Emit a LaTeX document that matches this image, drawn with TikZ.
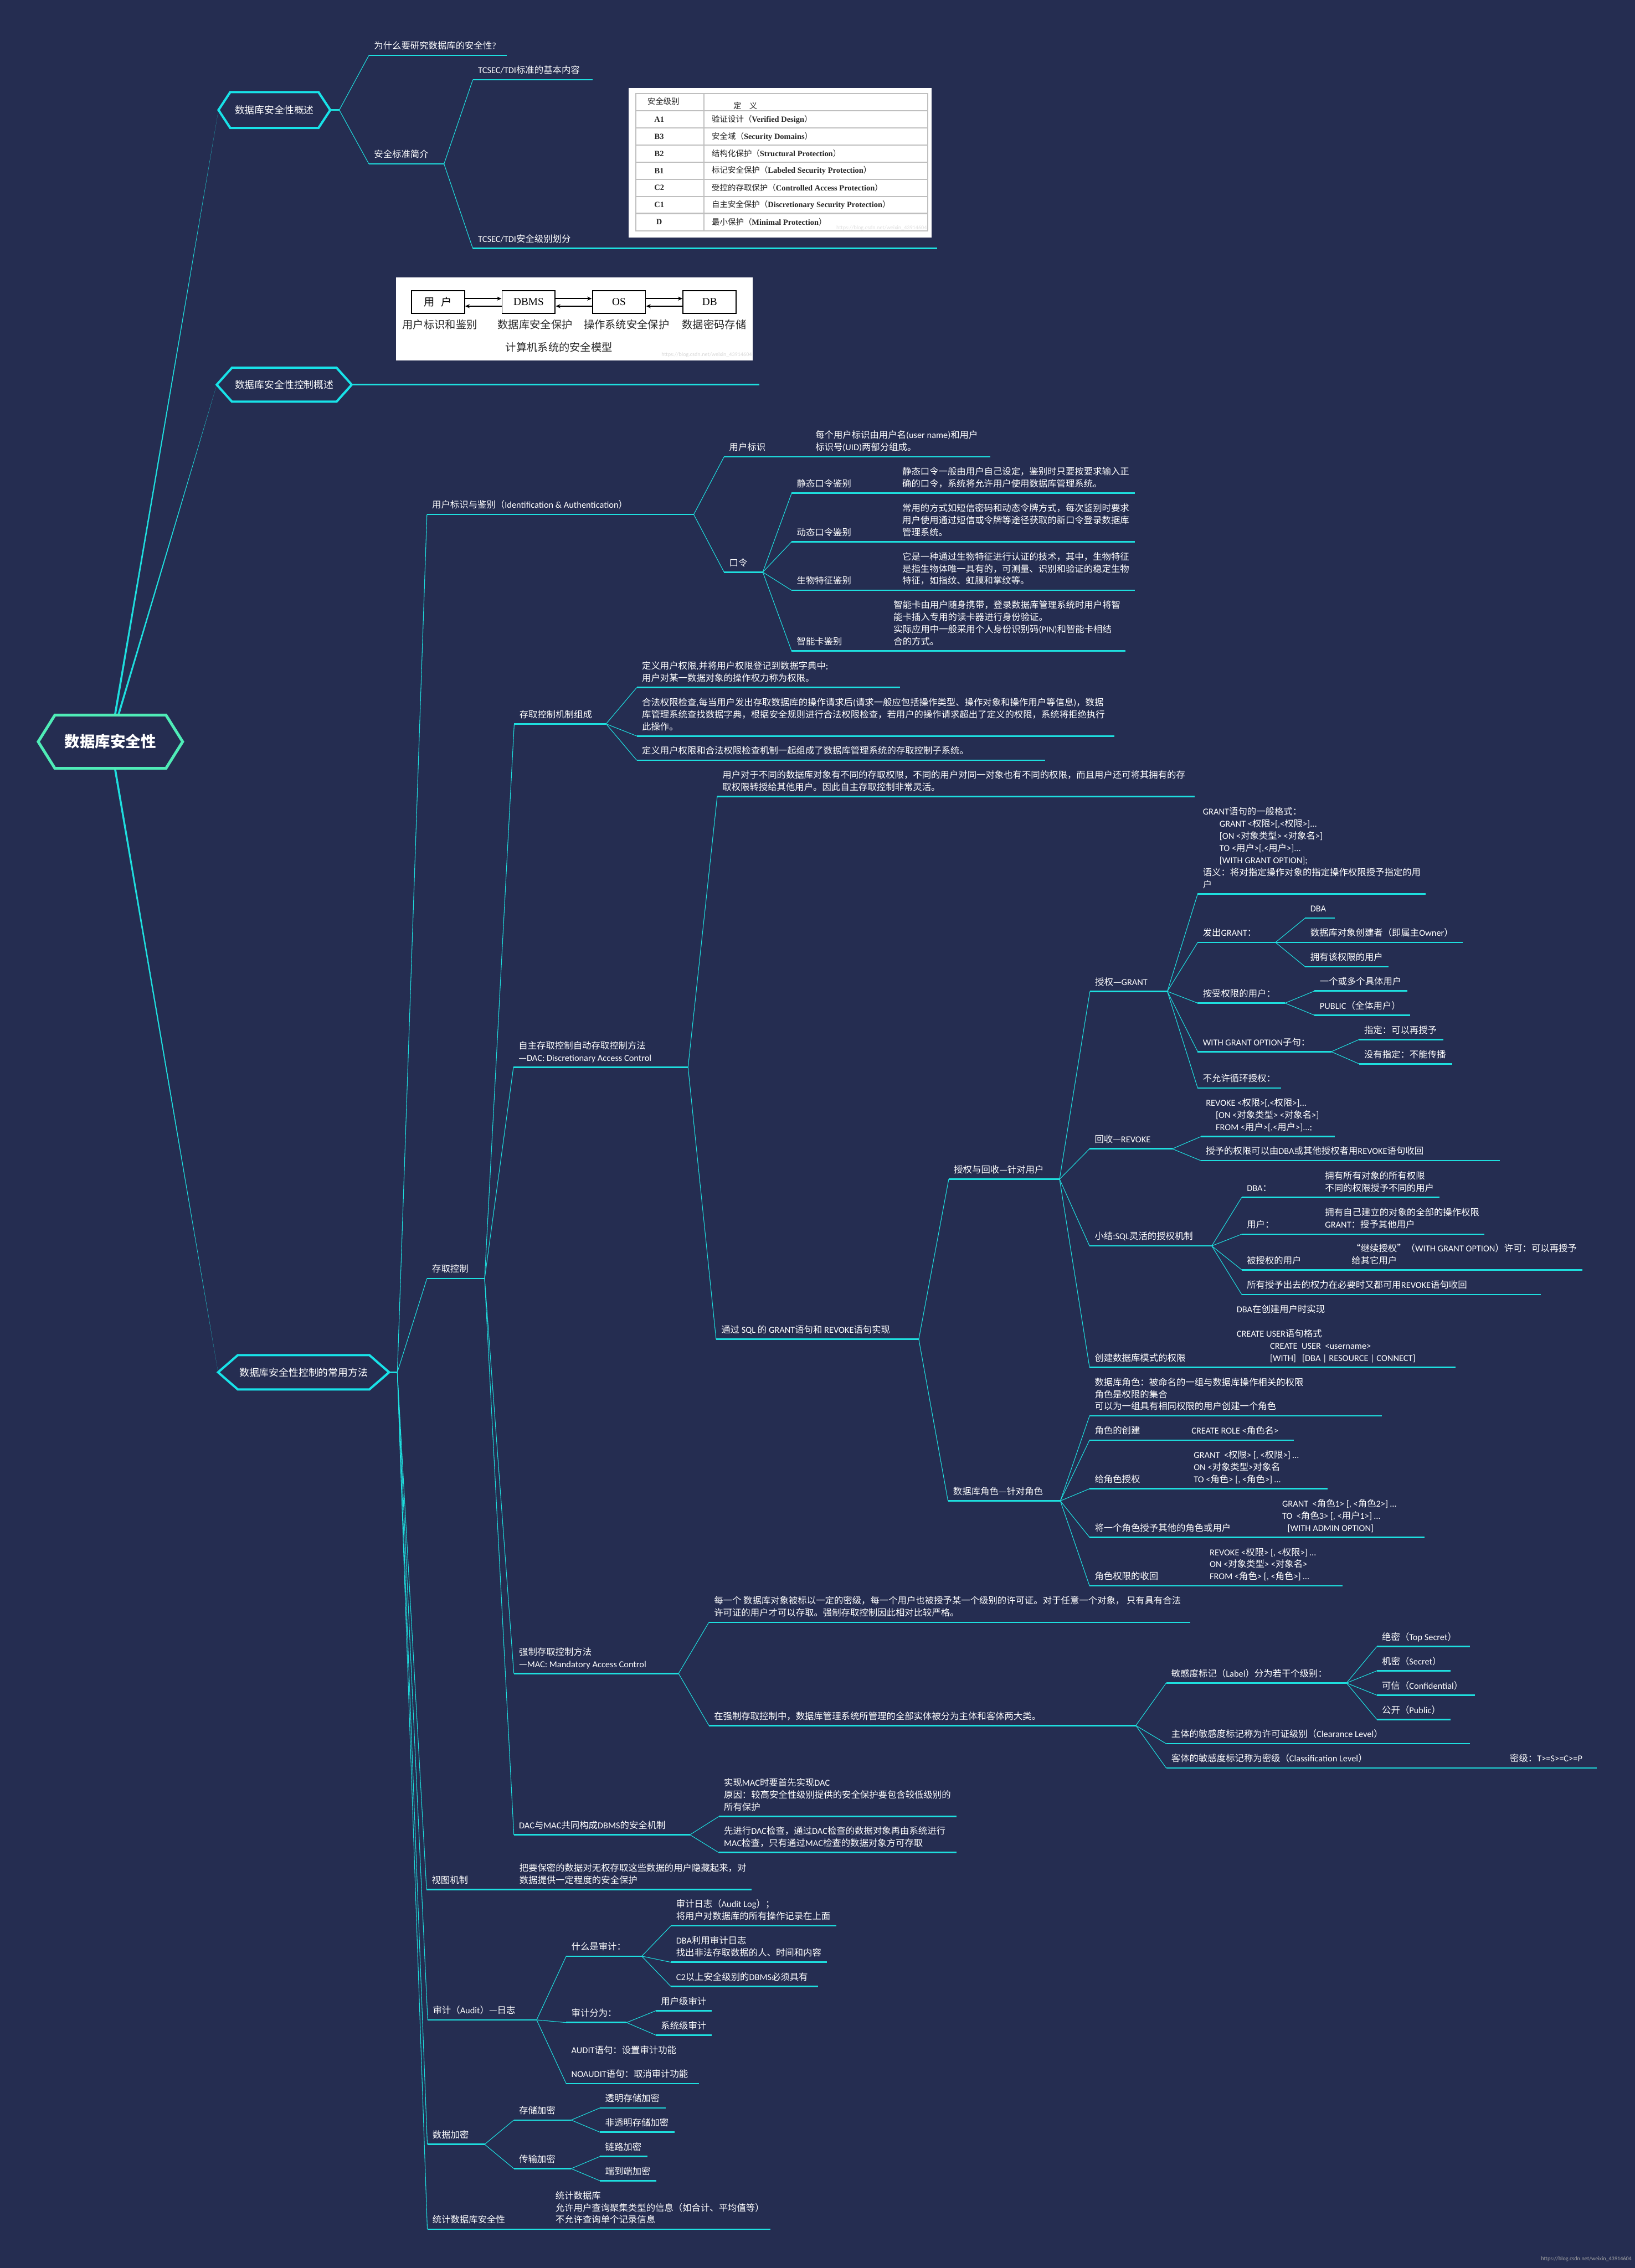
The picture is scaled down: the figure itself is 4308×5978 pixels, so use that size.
\documentclass[tikz,border=0pt]{standalone}
\usepackage{fontspec}
\setmainfont{Carlito}
\newfontfamily\cjkfont{Noto Sans CJK SC}
\newfontfamily\serifimg{Liberation Serif}
\usetikzlibrary{calc,arrows.meta}

% 中文字符自动换字体
\XeTeXinterchartokenstate=1
\newXeTeXintercharclass\CJKcls
\makeatletter
\def\mm@setcls#1#2{\count@=#1\relax
  \loop\XeTeXcharclass\count@=\CJKcls
  \ifnum\count@<#2\relax\advance\count@\@ne\repeat}
\mm@setcls{"2E80}{"9FFF}
\mm@setcls{"FF00}{"FFEF}
\makeatother
\XeTeXcharclass"2014=\CJKcls
\XeTeXcharclass"201C=\CJKcls
\XeTeXcharclass"201D=\CJKcls
\def\latinfam{\rmfamily}
\def\cjkfam{\cjkfont}
\XeTeXinterchartoks 0 \CJKcls = {\cjkfam}
\XeTeXinterchartoks 4095 \CJKcls = {\cjkfam}
\XeTeXinterchartoks \CJKcls 0 = {\latinfam}
\XeTeXinterchartoks \CJKcls 4095 = {\latinfam}

\definecolor{bgnavy}{RGB}{37,45,81}
\definecolor{linecyan}{RGB}{30,222,222}
\definecolor{rootmint}{RGB}{79,236,183}
\definecolor{hexcyan}{RGB}{24,226,232}

\newcommand\mmfont{\fontsize{6.8}{9.1}\selectfont}
\newcommand\hexfont{\fontsize{7.4}{9}\selectfont}
\newcommand\rootfont{\fontsize{11.4}{13}\selectfont\bfseries}
\newcommand\imgfont{\serifimg\def\latinfam{\serifimg}\fontsize{8}{10}\selectfont}
\newcommand\tabfont{\serifimg\bfseries\def\latinfam{\serifimg\bfseries}\def\cjkfam{\cjkfont\mdseries}\fontsize{6}{7.5}\selectfont}

\tikzset{
  uline/.style={linecyan, line width=1.1pt},
  conn/.style={linecyan, line width=0.45pt},
  lbl/.style={anchor=south west, align=left, inner sep=0pt, text=white,
    font=\mmfont, execute at end node=\strut},
  hexnode/.style={inner sep=0pt, text=white, font=\hexfont},
  hexline/.style={draw=hexcyan, line width=1.7pt, fill=bgnavy},
  imgbox/.style={draw=black, line width=0.8pt, minimum width=1.4cm,
    minimum height=0.6cm, inner sep=0pt, text=black, font=\imgfont},
  imgarrow/.style={-{Stealth[length=3.5pt,width=3pt]}, line width=0.7pt, black},
  imgtxt/.style={inner sep=0pt, text=black!85, font=\imgfont},
  tabtxt/.style={inner sep=0pt, text=black!85, font=\tabfont},
  tabrule/.style={gray!50, line width=0.9pt},
  wmark/.style={inner sep=0pt, font=\fontsize{4.2}{5}\selectfont},
}

% 分支：名称, 起点x, 终点x, y, 文字
\newcommand\mmbranch[5]{%
  \coordinate (#1-l) at (#2,#4);
  \coordinate (#1-r) at (#3,#4);
  \draw[uline] (#1-l) -- (#1-r);
  \node[lbl] (#1) at ($(#1-l)+(13,-6)$) {#5};}
% 说明文字：名称, x, y, 文字
\newcommand\mmnote[4]{\node[lbl] (#1-d) at ($(#2,#3)+(0,-6)$) {#4};}
% 六边形边框
\newcommand\hexframe[3]{%
  \draw[hexline, #3] (#1.west) -- ($(#1.north west)+(#2,0)$)
    -- ($(#1.north east)+(-#2,0)$) -- (#1.east)
    -- ($(#1.south east)+(-#2,0)$) -- ($(#1.south west)+(#2,0)$) -- cycle;}

\pgfdeclarelayer{back}
\pgfdeclarelayer{frame}
\pgfsetlayers{back,frame,main}

\begin{document}
\begin{tikzpicture}[x=0.01cm, y=-0.01cm]
  \useasboundingbox (0,0) rectangle (4308,5978);
  \begin{pgfonlayer}{back}
    \fill[bgnavy] (0,0) rectangle (4308,5978);
  \end{pgfonlayer}

  % 中心与一级节点
  \node[hexnode, font=\rootfont, minimum width=3.79cm, minimum height=1.39cm] (root) at (291,1955) {数据库安全性};
  \node[hexnode, minimum width=2.93cm, minimum height=0.93cm] (n1) at (723,290) {数据库安全性概述};
  \node[hexnode, minimum width=3.54cm, minimum height=0.88cm] (n2) at (749,1014) {数据库安全性控制概述};
  \node[hexnode, minimum width=4.49cm, minimum height=0.89cm] (n3) at (800,3617) {数据库安全性控制的常用方法};
  \begin{pgfonlayer}{frame}
    \hexframe{root}{44}{draw=rootmint, line width=2.1pt}
    \hexframe{n1}{31}{}
    \hexframe{n2}{40}{}
    \hexframe{n3}{52}{}
  \end{pgfonlayer}
  \begin{pgfonlayer}{back}
    \foreach \n in {n1,n2,n3}
      \fill[linecyan] ($(root.center)!0.8pt!90:(\n.west)$) -- (\n.west)
        -- ($(root.center)!0.8pt!-90:(\n.west)$) -- cycle;
  \end{pgfonlayer}
  \coordinate (n1-r) at (894,290);
  \coordinate (n3-r) at (1047,3617);
  \draw[uline] (n1.east) -- (n1-r);
  \draw[uline] (n3.east) -- (n3-r);

  % 概述
  \mmbranch{why}{972}{1336}{146}{为什么要研究数据库的安全性?}
  \mmbranch{std}{972}{1170}{432}{安全标准简介}
  \mmbranch{tdia}{1246}{1562}{210}{TCSEC/TDI标准的基本内容}
  \mmbranch{tdib}{1246}{2470}{655}{TCSEC/TDI安全级别划分}

  % 安全级别表
  \fill[white] (1656,232) rectangle (2455,626);
  \draw[tabrule] (1675,247) rectangle (2445,608);
  \draw[tabrule] (1855,247) -- (1855,608);
  \foreach \i in {1,...,7}
    \draw[tabrule] (1675,{247+45.1*\i}) -- (2445,{247+45.1*\i});
  \node[tabtxt, font=\tabfont\mdseries] (th1) at (1748,267) {安全级别};
  \node[tabtxt, font=\tabfont\mdseries] (th2) at (1964,278) {定\quad 义};
  \foreach \c/\d [count=\i] in {A1/验证设计（Verified Design）,
      B3/安全域（Security Domains）, B2/结构化保护（Structural Protection）,
      B1/标记安全保护（Labeled Security Protection）,
      C2/受控的存取保护（Controlled Access Protection）,
      C1/自主安全保护（Discretionary Security Protection）,
      D/最小保护（Minimal Protection）} {
    \node[tabtxt] (tc\i) at (1737,{269.5+45.1*\i}) {\c};
    \node[tabtxt, anchor=west] (td\i) at (1875,{269.5+45.1*\i}) {\d};
  }
  \node[wmark, anchor=east, text=black!12] (wmt) at (2443,601) {https://blog.csdn.net/weixin\_43914604};

  % 安全模型图
  \coordinate (model-l) at (950,1014);
  \coordinate (model-r) at (2001,1014);
  \draw[uline] (n2.east) -- (model-l) -- (model-r);
  \fill[white] (1044,731) rectangle (1984,950);
  \node[imgbox] (mu) at (1154,796) {用\hspace{0.6em}户};
  \node[imgbox] (md) at (1393,796) {DBMS};
  \node[imgbox] (mo) at (1631,796) {OS};
  \node[imgbox] (mb) at (1870,796) {DB};
  \foreach \a/\b in {mu/md, md/mo, mo/mb} {
    \draw[imgarrow] ($(\a.east)+(0,-9)$) -- ($(\b.west)+(0,-9)$);
    \draw[imgarrow] ($(\b.west)+(0,11)$) -- ($(\a.east)+(0,11)$);
  }
  \node[imgtxt] (mlu) at (1159,855) {用户标识和鉴别};
  \node[imgtxt] (mld) at (1410,855) {数据库安全保护};
  \node[imgtxt] (mlo) at (1651,855) {操作系统安全保护};
  \node[imgtxt] (mlb) at (1882,855) {数据密码存储};
  \node[imgtxt] (mcap) at (1473,915) {计算机系统的安全模型};
  \node[wmark, anchor=east, text=black!15] (wmm) at (1982,935) {https://blog.csdn.net/weixin\_43914604};

  % 常用方法
  \mmbranch{ia}{1125}{1828}{1356}{用户标识与鉴别（Identification \& Authentication）}
  \mmbranch{ac}{1125}{1277}{3370}{存取控制}
  \mmbranch{view}{1124}{1980}{4980}{视图机制}
  \mmnote{view}{1368}{4980}{把要保密的数据对无权存取这些数据的用户隐藏起来，对\\数据提供一定程度的安全保护}
  \mmbranch{audit}{1127}{1414}{5324}{审计（Audit）—日志}
  \mmbranch{enc}{1126}{1277}{5652}{数据加密}
  \mmbranch{stat}{1126}{2030}{5876}{统计数据库安全性}
  \mmnote{stat}{1463}{5876}{统计数据库\\允许用户查询聚集类型的信息（如合计、平均值等）\\不允许查询单个记录信息}

  % 用户标识与鉴别
  \mmbranch{uid}{1908}{2609}{1204}{用户标识}
  \mmnote{uid}{2148}{1204}{每个用户标识由用户名(user name)和用户\\标识号(UID)两部分组成。}
  \mmbranch{pwd}{1908}{2010}{1508}{口令}
  \mmbranch{pwa}{2086}{2990}{1300}{静态口令鉴别}
  \mmnote{pwa}{2377}{1300}{静态口令一般由用户自己设定，鉴别时只要按要求输入正\\确的口令，系统将允许用户使用数据库管理系统。}
  \mmbranch{pwb}{2086}{2990}{1428}{动态口令鉴别}
  \mmnote{pwb}{2377}{1428}{常用的方式如短信密码和动态令牌方式，每次鉴别时要求\\用户使用通过短信或令牌等途径获取的新口令登录数据库\\管理系统。}
  \mmbranch{pwc}{2086}{2990}{1556}{生物特征鉴别}
  \mmnote{pwc}{2377}{1556}{它是一种通过生物特征进行认证的技术，其中，生物特征\\是指生物体唯一具有的，可测量、识别和验证的稳定生物\\特征，如指纹、虹膜和掌纹等。}
  \mmbranch{pwe}{2086}{2966}{1716}{智能卡鉴别}
  \mmnote{pwe}{2354}{1716}{智能卡由用户随身携带，登录数据库管理系统时用户将智\\能卡插入专用的读卡器进行身份验证。\\实际应用中一般采用个人身份识别码(PIN)和智能卡相结\\合的方式。}

  % 存取控制
  \mmbranch{mech}{1355}{1597}{1908}{存取控制机制组成}
  \mmbranch{mecha}{1678}{2372}{1812}{定义用户权限,并将用户权限登记到数据字典中;\\用户对某一数据对象的操作权力称为权限。}
  \mmbranch{mechb}{1678}{2936}{1940}{合法权限检查,每当用户发出存取数据库的操作请求后(请求一般应包括操作类型、操作对象和操作用户等信息)，数据\\库管理系统查找数据字典，根据安全规则进行合法权限检查，若用户的操作请求超出了定义的权限，系统将拒绝执行\\此操作。}
  \mmbranch{mechc}{1678}{2754}{2004}{定义用户权限和合法权限检查机制一起组成了数据库管理系统的存取控制子系统。}
  \mmbranch{dac}{1353}{1813}{2813}{自主存取控制自动存取控制方法\\—DAC: Discretionary Access Control}
  \mmbranch{daca}{1890}{3148}{2099}{用户对于不同的数据库对象有不同的存取权限，不同的用户对同一对象也有不同的权限，而且用户还可将其拥有的存\\取权限转授给其他用户。因此自主存取控制非常灵活。}
  \mmbranch{sql}{1887}{2421}{3530}{通过 SQL 的 GRANT语句和 REVOKE语句实现}
  \mmbranch{usr}{2500}{2792}{3108}{授权与回收—针对用户}
  \mmbranch{gr}{2872}{3076}{2613}{授权—GRANT}
  \mmbranch{gra}{3156}{3757}{2356}{GRANT语句的一般格式：\\\hspace*{12.5pt}GRANT <权限>[,<权限>]...\\\hspace*{12.5pt}[ON <对象类型> <对象名>]\\\hspace*{12.5pt}TO <用户>[,<用户>]...\\\hspace*{12.5pt}[WITH GRANT OPTION];\\语义：将对指定操作对象的指定操作权限授予指定的用\\户}
  \mmbranch{grb}{3156}{3361}{2484}{发出GRANT：}
  \mmbranch{grba}{3439}{3518}{2420}{DBA}
  \mmbranch{grbb}{3439}{3855}{2484}{数据库对象创建者（即属主Owner）}
  \mmbranch{grbc}{3439}{3659}{2548}{拥有该权限的用户}
  \mmbranch{grc}{3156}{3386}{2644}{按受权限的用户：}
  \mmbranch{grca}{3464}{3709}{2612}{一个或多个具体用户}
  \mmbranch{grcb}{3464}{3716}{2676}{PUBLIC（全体用户）}
  \mmbranch{grd}{3156}{3508}{2772}{WITH GRANT OPTION子句：}
  \mmbranch{grda}{3581}{3804}{2740}{指定：可以再授予}
  \mmbranch{grdb}{3581}{3826}{2804}{没有指定：不能传播}
  \mmbranch{gre}{3156}{3376}{2868}{不允许循环授权：}
  \mmbranch{rv}{2871}{3089}{3028}{回收—REVOKE}
  \mmbranch{rva}{3164}{3518}{2996}{REVOKE <权限>[,<权限>]...\\\hspace*{7.4pt}[ON <对象类型> <对象名>]\\\hspace*{7.4pt}FROM <用户>[,<用户>]...;}
  \mmbranch{rvb}{3164}{3952}{3059}{授予的权限可以由DBA或其他授权者用REVOKE语句收回}
  \mmbranch{sum}{2871}{3193}{3284}{小结:SQL灵活的授权机制}
  \mmbranch{suma}{3272}{3793}{3156}{DBA：}
  \mmnote{suma}{3491}{3156}{拥有所有对象的所有权限\\不同的权限授予不同的用户}
  \mmbranch{sumb}{3272}{3911}{3253}{用户：}
  \mmnote{sumb}{3491}{3253}{拥有自己建立的对象的全部的操作权限\\GRANT：授予其他用户}
  \mmbranch{sumc}{3272}{4170}{3347}{被授权的用户}
  \mmnote{sumc}{3561}{3347}{“继续授权”（WITH GRANT OPTION）许可：可以再授予\\给其它用户}
  \mmbranch{sumd}{3272}{4060}{3412}{所有授予出去的权力在必要时又都可用REVOKE语句收回}
  \mmbranch{cre}{2871}{3835}{3604}{创建数据库模式的权限}
  \mmnote{cre}{3258}{3604}{DBA在创建用户时实现\\[9.1pt]CREATE USER语句格式\\\hspace*{25pt}CREATE\ \ USER\ \ <username>\\\hspace*{25pt}[WITH]\ \ \ [DBA | RESOURCE | CONNECT]}
  \mmbranch{role}{2498}{2794}{3956}{数据库角色—针对角色}
  \mmbranch{rolea}{2871}{3641}{3732}{数据库角色：被命名的一组与数据库操作相关的权限\\角色是权限的集合\\可以为一组具有相同权限的用户创建一个角色}
  \mmbranch{roleb}{2871}{3410}{3796}{角色的创建}
  \mmnote{roleb}{3139}{3796}{CREATE ROLE <角色名>}
  \mmbranch{rolec}{2871}{3498}{3924}{给角色授权}
  \mmnote{rolec}{3145}{3924}{GRANT\ \ <权限>\ [,\ <权限>]\ …\\ON <对象类型>对象名\\TO <角色>\ [,\ <角色>]\ …}
  \mmbranch{roled}{2871}{3753}{4052}{将一个角色授予其他的角色或用户}
  \mmnote{roled}{3378}{4052}{GRANT\ \ <角色1>\ [,\ <角色2>]\ …\\TO\ \ <角色3>\ [,\ <用户1>]\ …\\\hspace*{4pt}[WITH ADMIN OPTION]}
  \mmbranch{rolee}{2871}{3538}{4180}{角色权限的收回}
  \mmnote{rolee}{3187}{4180}{REVOKE <权限>\ [,\ <权限>]\ …\\ON <对象类型> <对象名>\\FROM <角色>\ [,\ <角色>]\ …}
  \mmbranch{mac}{1354}{1788}{4411}{强制存取控制方法\\—MAC: Mandatory Access Control}
  \mmbranch{maca}{1868}{3137}{4276}{每一个 数据库对象被标以一定的密级，每一个用户也被授予某一个级别的许可证。对于任意一个对象， 只有具有合法\\许可证的用户才可以存取。强制存取控制因此相对比较严格。}
  \mmbranch{macb}{1868}{2993}{4548}{在强制存取控制中，数据库管理系统所管理的全部实体被分为主体和客体两大类。}
  \mmbranch{lab}{3073}{3548}{4436}{敏感度标记（Label）分为若干个级别：}
  \mmbranch{laba}{3628}{3873}{4340}{绝密（Top Secret）}
  \mmbranch{labb}{3628}{3822}{4404}{机密（Secret）}
  \mmbranch{labc}{3628}{3887}{4468}{可信（Confidential）}
  \mmbranch{labd}{3628}{3822}{4532}{公开（Public）}
  \mmbranch{clr}{3073}{3873}{4596}{主体的敏感度标记称为许可证级别（Clearance Level）}
  \mmbranch{cls}{3073}{4208}{4660}{客体的敏感度标记称为密级（Classification Level）}
  \mmnote{cls}{3978}{4660}{密级：T>=S>=C>=P}
  \mmbranch{both}{1354}{1818}{4836}{DAC与MAC共同构成DBMS的安全机制}
  \mmbranch{botha}{1894}{2521}{4788}{实现MAC时要首先实现DAC\\原因：较高安全性级别提供的安全保护要包含较低级别的\\所有保护}
  \mmbranch{bothb}{1894}{2521}{4883}{先进行DAC检查，通过DAC检查的数据对象再由系统进行\\MAC检查，只有通过MAC检查的数据对象方可存取}

  % 审计
  \mmbranch{aud}{1492}{1691}{5156}{什么是审计：}
  \mmbranch{auda}{1768}{2204}{5076}{审计日志（Audit Log）；\\将用户对数据库的所有操作记录在上面}
  \mmbranch{audb}{1768}{2179}{5172}{DBA利用审计日志\\找出非法存取数据的人、时间和内容}
  \mmbranch{audc}{1768}{2156}{5236}{C2以上安全级别的DBMS必须具有}
  \mmbranch{kind}{1492}{1651}{5331}{审计分为：}
  \mmbranch{kinda}{1728}{1875}{5300}{用户级审计}
  \mmbranch{kindb}{1728}{1875}{5364}{系统级审计}
  \mmbranch{stmt}{1492}{1842}{5492}{AUDIT语句：设置审计功能\\[9.1pt]NOAUDIT语句：取消审计功能}

  % 数据加密
  \mmbranch{store}{1354}{1505}{5588}{存储加密}
  \mmbranch{storea}{1581}{1754}{5556}{透明存储加密}
  \mmbranch{storeb}{1581}{1777}{5620}{非透明存储加密}
  \mmbranch{trans}{1354}{1505}{5716}{传输加密}
  \mmbranch{transa}{1581}{1706}{5684}{链路加密}
  \mmbranch{transb}{1581}{1730}{5748}{端到端加密}

  % 连线
  \foreach \p/\c in {n1/why, n1/std, std/tdia, std/tdib,
      n3/ia, n3/ac, n3/view, n3/audit, n3/enc, n3/stat,
      ia/uid, ia/pwd, pwd/pwa, pwd/pwb, pwd/pwc, pwd/pwe,
      ac/mech, ac/dac, ac/mac, ac/both,
      mech/mecha, mech/mechb, mech/mechc,
      dac/daca, dac/sql, sql/usr, sql/role,
      usr/gr, usr/rv, usr/sum, usr/cre,
      gr/gra, gr/grb, gr/grc, gr/grd, gr/gre,
      grb/grba, grb/grbb, grb/grbc, grc/grca, grc/grcb, grd/grda, grd/grdb,
      rv/rva, rv/rvb, sum/suma, sum/sumb, sum/sumc, sum/sumd,
      role/rolea, role/roleb, role/rolec, role/roled, role/rolee,
      mac/maca, mac/macb, macb/lab, macb/clr, macb/cls,
      lab/laba, lab/labb, lab/labc, lab/labd,
      both/botha, both/bothb,
      audit/aud, audit/kind, audit/stmt,
      aud/auda, aud/audb, aud/audc, kind/kinda, kind/kindb,
      enc/store, enc/trans, store/storea, store/storeb,
      trans/transa, trans/transb}
    \draw[conn] (\p-r) -- (\c-l);

  \node[wmark, anchor=east, text=gray!70] (wm) at (4300,5955) {https://blog.csdn.net/weixin\_43914604};
\end{tikzpicture}
\end{document}
